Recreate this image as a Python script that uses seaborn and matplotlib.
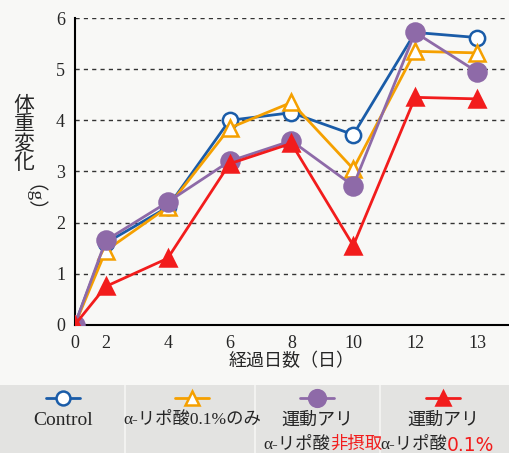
import numpy as np
import pandas as pd
import matplotlib
matplotlib.use("Agg")
import matplotlib.pyplot as plt
import seaborn as sns

# Data
days = ["0", "2", "4", "6", "8", "10", "12", "13"]
day_pos = [0, 0.5, 1.5, 2.5, 3.5, 4.5, 5.5, 6.5]  # uneven spacing as in the figure
control = [0, 1.6, 2.3, 4.0, 4.15, 3.72, 5.72, 5.62]
lipoic_only = [0, 1.45, 2.3, 3.85, 4.35, 3.05, 5.35, 5.32]
exercise_none = [0, 1.65, 2.4, 3.2, 3.6, 2.72, 5.72, 4.95]
exercise_lipoic = [0, 0.75, 1.3, 3.15, 3.55, 1.55, 4.45, 4.42]

y_ticks = [0, 1, 2, 3, 4, 5, 6]

BLUE = "#1a5ca8"
ORANGE = "#f5a000"
PURPLE = "#8e6aa8"
RED = "#f21c1c"
BG = "#f8f8f6"

sns.set_style("white")
plt.rcParams["font.family"] = ["Liberation Serif", "Noto Sans CJK JP", "DejaVu Sans"]

fig = plt.figure(figsize=(5.09, 4.53), dpi=100)
fig.patch.set_facecolor(BG)
ax = fig.add_axes([0.147, 0.283, 0.851, 0.677])
ax.set_facecolor(BG)

series = [
    (control, BLUE, "o", "white", 11),
    (lipoic_only, ORANGE, "^", "white", 11),
    (exercise_none, PURPLE, "o", PURPLE, 13),
    (exercise_lipoic, RED, "^", RED, 11),
]
for i, (vals, col, mk, fc, ms) in enumerate(series):
    sns.lineplot(x=day_pos, y=vals, ax=ax, color=col, linewidth=2,
                 marker=mk, markersize=ms, markerfacecolor=fc,
                 markeredgecolor=col, markeredgewidth=1.8, zorder=3 + i)

ax.set_xlim(0, 7)
ax.set_ylim(0, 6)
ax.set_xticks(day_pos)
ax.set_xticklabels(days)
ax.set_yticks(y_ticks)
ax.tick_params(axis="both", length=0, labelsize=13, pad=7)
for y in y_ticks[1:]:
    ax.axhline(y, color="#333333", linestyle=(0, (3, 3)), linewidth=1, zorder=1)
for s in ["top", "right"]:
    ax.spines[s].set_visible(False)
for s in ["left", "bottom"]:
    ax.spines[s].set_color("black")
    ax.spines[s].set_linewidth(1.5)

ax.set_xlabel("経過日数（日）", fontsize=13, labelpad=1)
fig.text(0.047, 0.70, "体\n重\n変\n化", fontsize=15, ha="center", va="center",
         linespacing=1.0)
fig.text(0.047, 0.54, "（g）", fontsize=14, ha="center", va="center", rotation=-90)

# Legend band
lax = fig.add_axes([0, 0, 1, 0.15])
lax.set_xlim(0, 509)
lax.set_ylim(68, 0)
lax.axis("off")
lax.add_patch(plt.Rectangle((0, 0), 509, 68, color="#e3e3e1", zorder=0))
for x in [125, 255, 380]:
    lax.plot([x, x], [0, 68], color="#f2f2f0", linewidth=1.5, zorder=1)

cells = [63, 192, 317, 443]
for cx, (vals, col, mk, fc, ms) in zip(cells, series):
    lax.plot([cx - 17, cx + 17], [13, 13], color=col, linewidth=2, zorder=2)
    lax.plot([cx], [13], marker=mk, markersize=ms - 1, markerfacecolor=fc,
             markeredgecolor=col, markeredgewidth=1.8, zorder=3)

fs = 12.5
lax.text(63, 35, "Control", fontsize=14, ha="center", va="center")
lax.text(192, 35, "α-リポ酸0.1%のみ", fontsize=fs, ha="center", va="center")
lax.text(317, 35, "運動アリ", fontsize=13, ha="center", va="center")
lax.text(330, 60, "α-リポ酸", fontsize=fs, ha="right", va="center")
lax.text(330, 60, "非摂取", fontsize=fs, ha="left", va="center", color=RED)
lax.text(443, 35, "運動アリ", fontsize=13, ha="center", va="center")
lax.text(447, 60, "α-リポ酸", fontsize=fs, ha="right", va="center")
lax.text(447, 60, "0.1%", fontsize=13.5, ha="left", va="center", color=RED,
         family=["DejaVu Sans"])

fig.savefig("out.png", dpi=100, facecolor=fig.get_facecolor())
